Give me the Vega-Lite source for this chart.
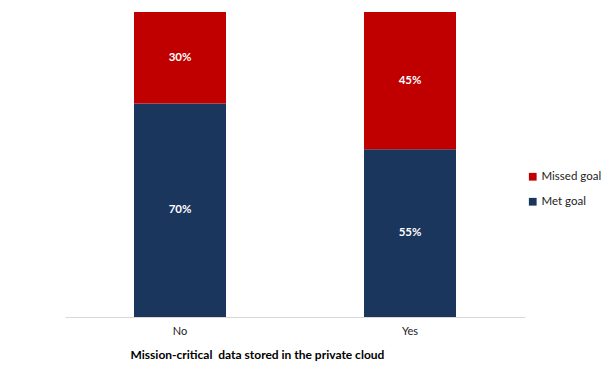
{
  "$schema": "https://vega.github.io/schema/vega-lite/v6.json",
  "width": 460,
  "height": 305,
  "autosize": "none",
  "padding": {"left": 65, "top": 12, "right": 82, "bottom": 60},
  "background": "white",
  "config": {"view": {"stroke": null}, "font": "Lato"},
  "data": {
    "values": [
      {"group": "No", "status": "Met goal", "value": 70, "order": 1},
      {"group": "No", "status": "Missed goal", "value": 30, "order": 2},
      {"group": "Yes", "status": "Met goal", "value": 55, "order": 1},
      {"group": "Yes", "status": "Missed goal", "value": 45, "order": 2}
    ]
  },
  "transform": [
    {"stack": "value", "groupby": ["group"], "sort": [{"field": "order"}], "as": ["v0", "v1"]},
    {"calculate": "(datum.v0 + datum.v1) / 2", "as": "mid"},
    {"calculate": "datum.value + '%'", "as": "label"}
  ],
  "encoding": {
    "x": {
      "field": "group",
      "type": "nominal",
      "scale": {"paddingInner": 0.6, "paddingOuter": 0.3},
      "axis": {
        "labelAngle": 0,
        "labelFont": "Lato",
        "labelFontSize": 11,
        "labelColor": "#222222",
        "labelPadding": 8,
        "ticks": false,
        "domainColor": "#d9d9d9",
        "title": "Mission-critical\u00a0 data stored in the private cloud",
        "titleFont": "Lato",
        "titleFontSize": 12,
        "titleFontWeight": "bold",
        "titleColor": "#000000",
        "titleX": 65,
        "titleY": 32,
        "titleAlign": "left"
      }
    }
  },
  "layer": [
    {
      "mark": {"type": "bar"},
      "encoding": {
        "y": {"field": "v0", "type": "quantitative", "scale": {"domain": [0, 100]}, "axis": null},
        "y2": {"field": "v1"},
        "color": {
          "field": "status",
          "type": "nominal",
          "scale": {"domain": ["Missed goal", "Met goal"], "range": ["#C00000", "#1B365D"]},
          "legend": {
            "title": null,
            "orient": "none",
            "legendX": 462,
            "legendY": 159,
            "symbolType": "square",
            "symbolSize": 60,
            "symbolStrokeWidth": 0,
            "labelFont": "Lato",
            "labelFontSize": 11.5,
            "labelColor": "#222222",
            "labelOffset": 3,
            "rowPadding": 12
          }
        }
      }
    },
    {
      "mark": {"type": "text", "color": "white", "fontWeight": "bold", "fontSize": 11.5, "font": "Lato"},
      "encoding": {
        "y": {"field": "mid", "type": "quantitative"},
        "text": {"field": "label"}
      }
    }
  ]
}
